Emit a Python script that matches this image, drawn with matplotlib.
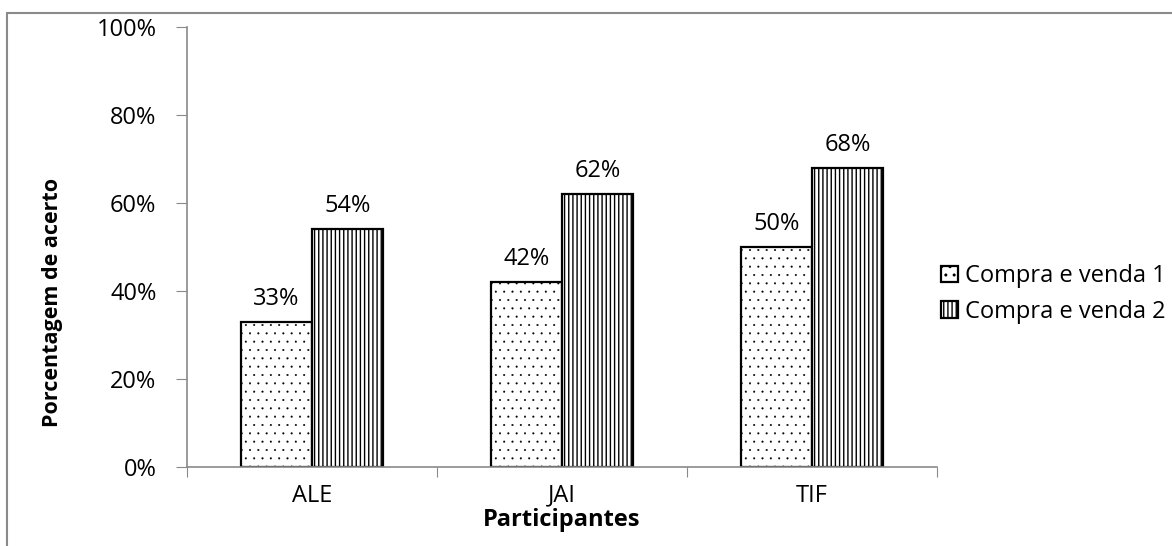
import matplotlib
matplotlib.use("Agg")
import matplotlib.pyplot as plt
from matplotlib.patches import Rectangle
from matplotlib.ticker import FixedLocator, NullFormatter, FuncFormatter
import numpy as np

participants = ["ALE", "JAI", "TIF"]
series_names = ["Compra e venda 1", "Compra e venda 2"]
venda1 = [33, 42, 50]
venda2 = [54, 62, 68]
y_ticks = [0, 20, 40, 60, 80, 100]

plt.rcParams["font.family"] = ["Open Sans", "DejaVu Sans"]
FS = 17

fig = plt.figure(figsize=(11.72, 5.46), dpi=100)
ax = fig.add_axes([187 / 1172, 1 - 467 / 546, (937 - 187) / 1172, (467 - 27) / 546])

# outer chart frame
fig.patches.append(Rectangle((7 / 1172, -0.1), 1.2, 1 - 13 / 546 + 0.1,
                             transform=fig.transFigure, fill=False,
                             edgecolor="#8a8a8a", linewidth=1.5, zorder=0))

x = np.arange(len(participants))
w = 0.285
plt.rcParams["hatch.linewidth"] = 0.25
b1 = ax.bar(x - w / 2, venda1, w, facecolor="white", edgecolor="black",
            hatch="..", linewidth=1.6, label=series_names[0])
plt.rcParams["hatch.linewidth"] = 1.0
b2 = ax.bar(x + w / 2, venda2, w, facecolor="white", edgecolor="black",
            hatch="||||", linewidth=1.6, label=series_names[1])

for bars, vals in ((b1, venda1), (b2, venda2)):
    for rect, v in zip(bars, vals):
        ax.text(rect.get_x() + rect.get_width() / 2, v + 2.5, f"{v}%",
                ha="center", va="bottom", fontsize=FS)

ax.set_xlim(-0.5, len(participants) - 0.5)
ax.set_ylim(0, 100)
ax.set_yticks(y_ticks)
ax.yaxis.set_major_formatter(FuncFormatter(lambda v, p: f"{int(v)}%"))
ax.xaxis.set_major_locator(FixedLocator(np.arange(-0.5, len(participants), 1.0)))
ax.xaxis.set_major_formatter(NullFormatter())
ax.xaxis.set_minor_locator(FixedLocator(x))
ax.set_xticklabels(participants, minor=True)
ax.tick_params(axis="x", which="minor", length=0, labelsize=FS, pad=12)
ax.tick_params(axis="x", which="major", length=7, color="#8a8a8a", direction="out")
ax.tick_params(axis="y", length=8, color="#8a8a8a", labelsize=FS, pad=14)

for s in ("top", "right"):
    ax.spines[s].set_visible(False)
for s in ("left", "bottom"):
    ax.spines[s].set_color("#8a8a8a")
    ax.spines[s].set_linewidth(1.2)

ax.set_ylabel("Porcentagem de acerto", fontsize=15.5, fontweight="bold",
              va="center")
ax.yaxis.set_label_coords(-0.179, 0.375)
ax.set_xlabel("Participantes", fontsize=FS, fontweight="bold", labelpad=0)

leg = fig.legend(handles=[b1, b2], labels=series_names, loc="center left",
                 bbox_to_anchor=(0.785, 1 - 294 / 546), frameon=False,
                 fontsize=FS, handlelength=0.7, handleheight=0.7,
                 handletextpad=0.3, labelspacing=0.5)

fig.savefig("out.png", dpi=100)
